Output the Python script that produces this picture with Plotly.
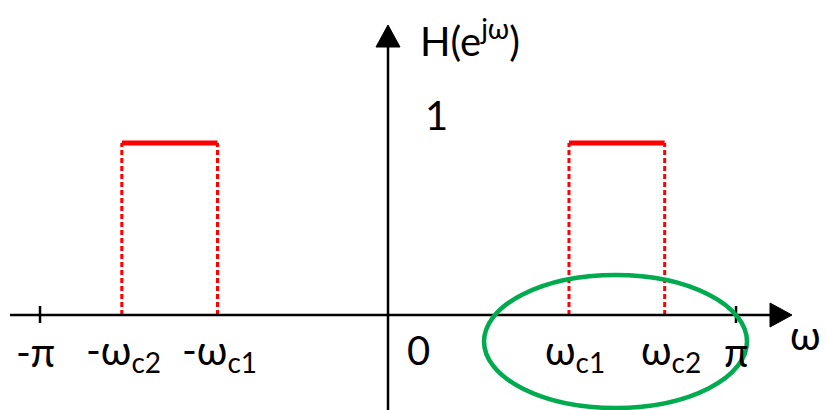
import numpy as np
import plotly.graph_objects as go

# Band edges in units of pi, and passband gain
neg_band = [-0.765, -0.49]      # -wc2, -wc1
pos_band = [0.52, 0.795]        # wc1, wc2
gain = 1.0
edge_labels_neg = ["-ω<sub>c2</sub>", "-ω<sub>c1</sub>"]
edge_labels_pos = ["ω<sub>c1</sub>", "ω<sub>c2</sub>"]
pi_ticks = [-1.0, 1.0]
pi_labels = ["-π", "π"]

W, H = 826, 410
X_RANGE = [-1.115, 1.2586]
Y_RANGE = [-0.552, 1.831]
px_x = (X_RANGE[1] - X_RANGE[0]) / W
px_y = (Y_RANGE[1] - Y_RANGE[0]) / H

RED = "#FF0000"
GREEN = "#00AA4E"
FONT = "Lato"
FS = 40

fig = go.Figure()

# passbands
for band in (neg_band, pos_band):
    for xe in band:
        fig.add_trace(go.Scatter(x=[xe, xe], y=[0, gain], mode="lines",
                                 line=dict(color=RED, width=3, dash="5px,3px"),
                                 hoverinfo="skip"))
    fig.add_trace(go.Scatter(x=band, y=[gain, gain], mode="lines",
                             line=dict(color=RED, width=5), hoverinfo="skip"))

shapes = []
# horizontal axis with arrow
x_start = X_RANGE[0] + 10 * px_x
x_tip = X_RANGE[0] + 792 * px_x
ah_len, ah_half = 22, 12
shapes.append(dict(type="line", x0=x_start, x1=x_tip - ah_len * px_x, y0=0, y1=0,
                   line=dict(color="black", width=2.5)))
shapes.append(dict(type="path",
                   path=f"M {x_tip} 0 L {x_tip - ah_len*px_x} {ah_half*px_y} "
                        f"L {x_tip - ah_len*px_x} {-ah_half*px_y} Z",
                   fillcolor="black", line=dict(color="black", width=1)))
# vertical axis with arrow
y_tip = Y_RANGE[1] - 25 * px_y
shapes.append(dict(type="line", x0=0, x1=0, y0=Y_RANGE[0], y1=y_tip - ah_len * px_y,
                   line=dict(color="black", width=2.5)))
shapes.append(dict(type="path",
                   path=f"M 0 {y_tip} L {-ah_half*px_x} {y_tip - ah_len*px_y} "
                        f"L {ah_half*px_x} {y_tip - ah_len*px_y} Z",
                   fillcolor="black", line=dict(color="black", width=1)))
# ticks at +/- pi
for t in pi_ticks:
    shapes.append(dict(type="line", x0=t, x1=t, y0=-8 * px_y, y1=9 * px_y,
                       line=dict(color="black", width=2.5)))
# highlight ellipse around the positive passband edges
shapes.append(dict(type="circle", xref="x", yref="y",
                   x0=X_RANGE[0] + 484 * px_x, x1=X_RANGE[0] + 747 * px_x,
                   y0=Y_RANGE[1] - 408 * px_y, y1=Y_RANGE[1] - 275 * px_y,
                   line=dict(color=GREEN, width=4.5)))

annotations = []
label_y = -37 * px_y
lab_font = dict(family=FONT, size=FS, color="black")
for xv, txt in zip(pi_ticks, pi_labels):
    annotations.append(dict(x=xv - 5 * px_x if xv < 0 else xv, y=label_y, text=txt,
                            showarrow=False, font=lab_font, yanchor="middle"))
for xv, txt in zip(neg_band, edge_labels_neg):
    annotations.append(dict(x=xv + 2 * px_x, y=label_y, text=txt, showarrow=False,
                            font=lab_font, yanchor="middle"))
for xv, txt in zip(pos_band, edge_labels_pos):
    annotations.append(dict(x=xv + 6 * px_x, y=label_y, text=txt, showarrow=False,
                            font=lab_font, yanchor="middle"))
annotations.append(dict(x=30 * px_x, y=-35 * px_y, text="0", showarrow=False,
                        font=lab_font, yanchor="middle"))
annotations.append(dict(x=X_RANGE[0] + 823 * px_x, y=-20 * px_y, text="ω",
                        showarrow=False, font=lab_font, xanchor="right",
                        yanchor="middle"))
annotations.append(dict(x=48 * px_x, y=gain + 28 * px_y, text="1", showarrow=False,
                        font=lab_font, yanchor="middle"))
annotations.append(dict(x=30 * px_x, y=Y_RANGE[1] - 38 * px_y, text="H(e<sup>jω</sup>)",
                        showarrow=False, font=lab_font, xanchor="left",
                        yanchor="middle"))

fig.update_layout(
    width=W, height=H, margin=dict(l=0, r=0, t=0, b=0),
    paper_bgcolor="white", plot_bgcolor="white", showlegend=False,
    xaxis=dict(range=X_RANGE, visible=False, fixedrange=True),
    yaxis=dict(range=Y_RANGE, visible=False, fixedrange=True),
    shapes=shapes, annotations=annotations,
)

fig.write_html("out.html")
